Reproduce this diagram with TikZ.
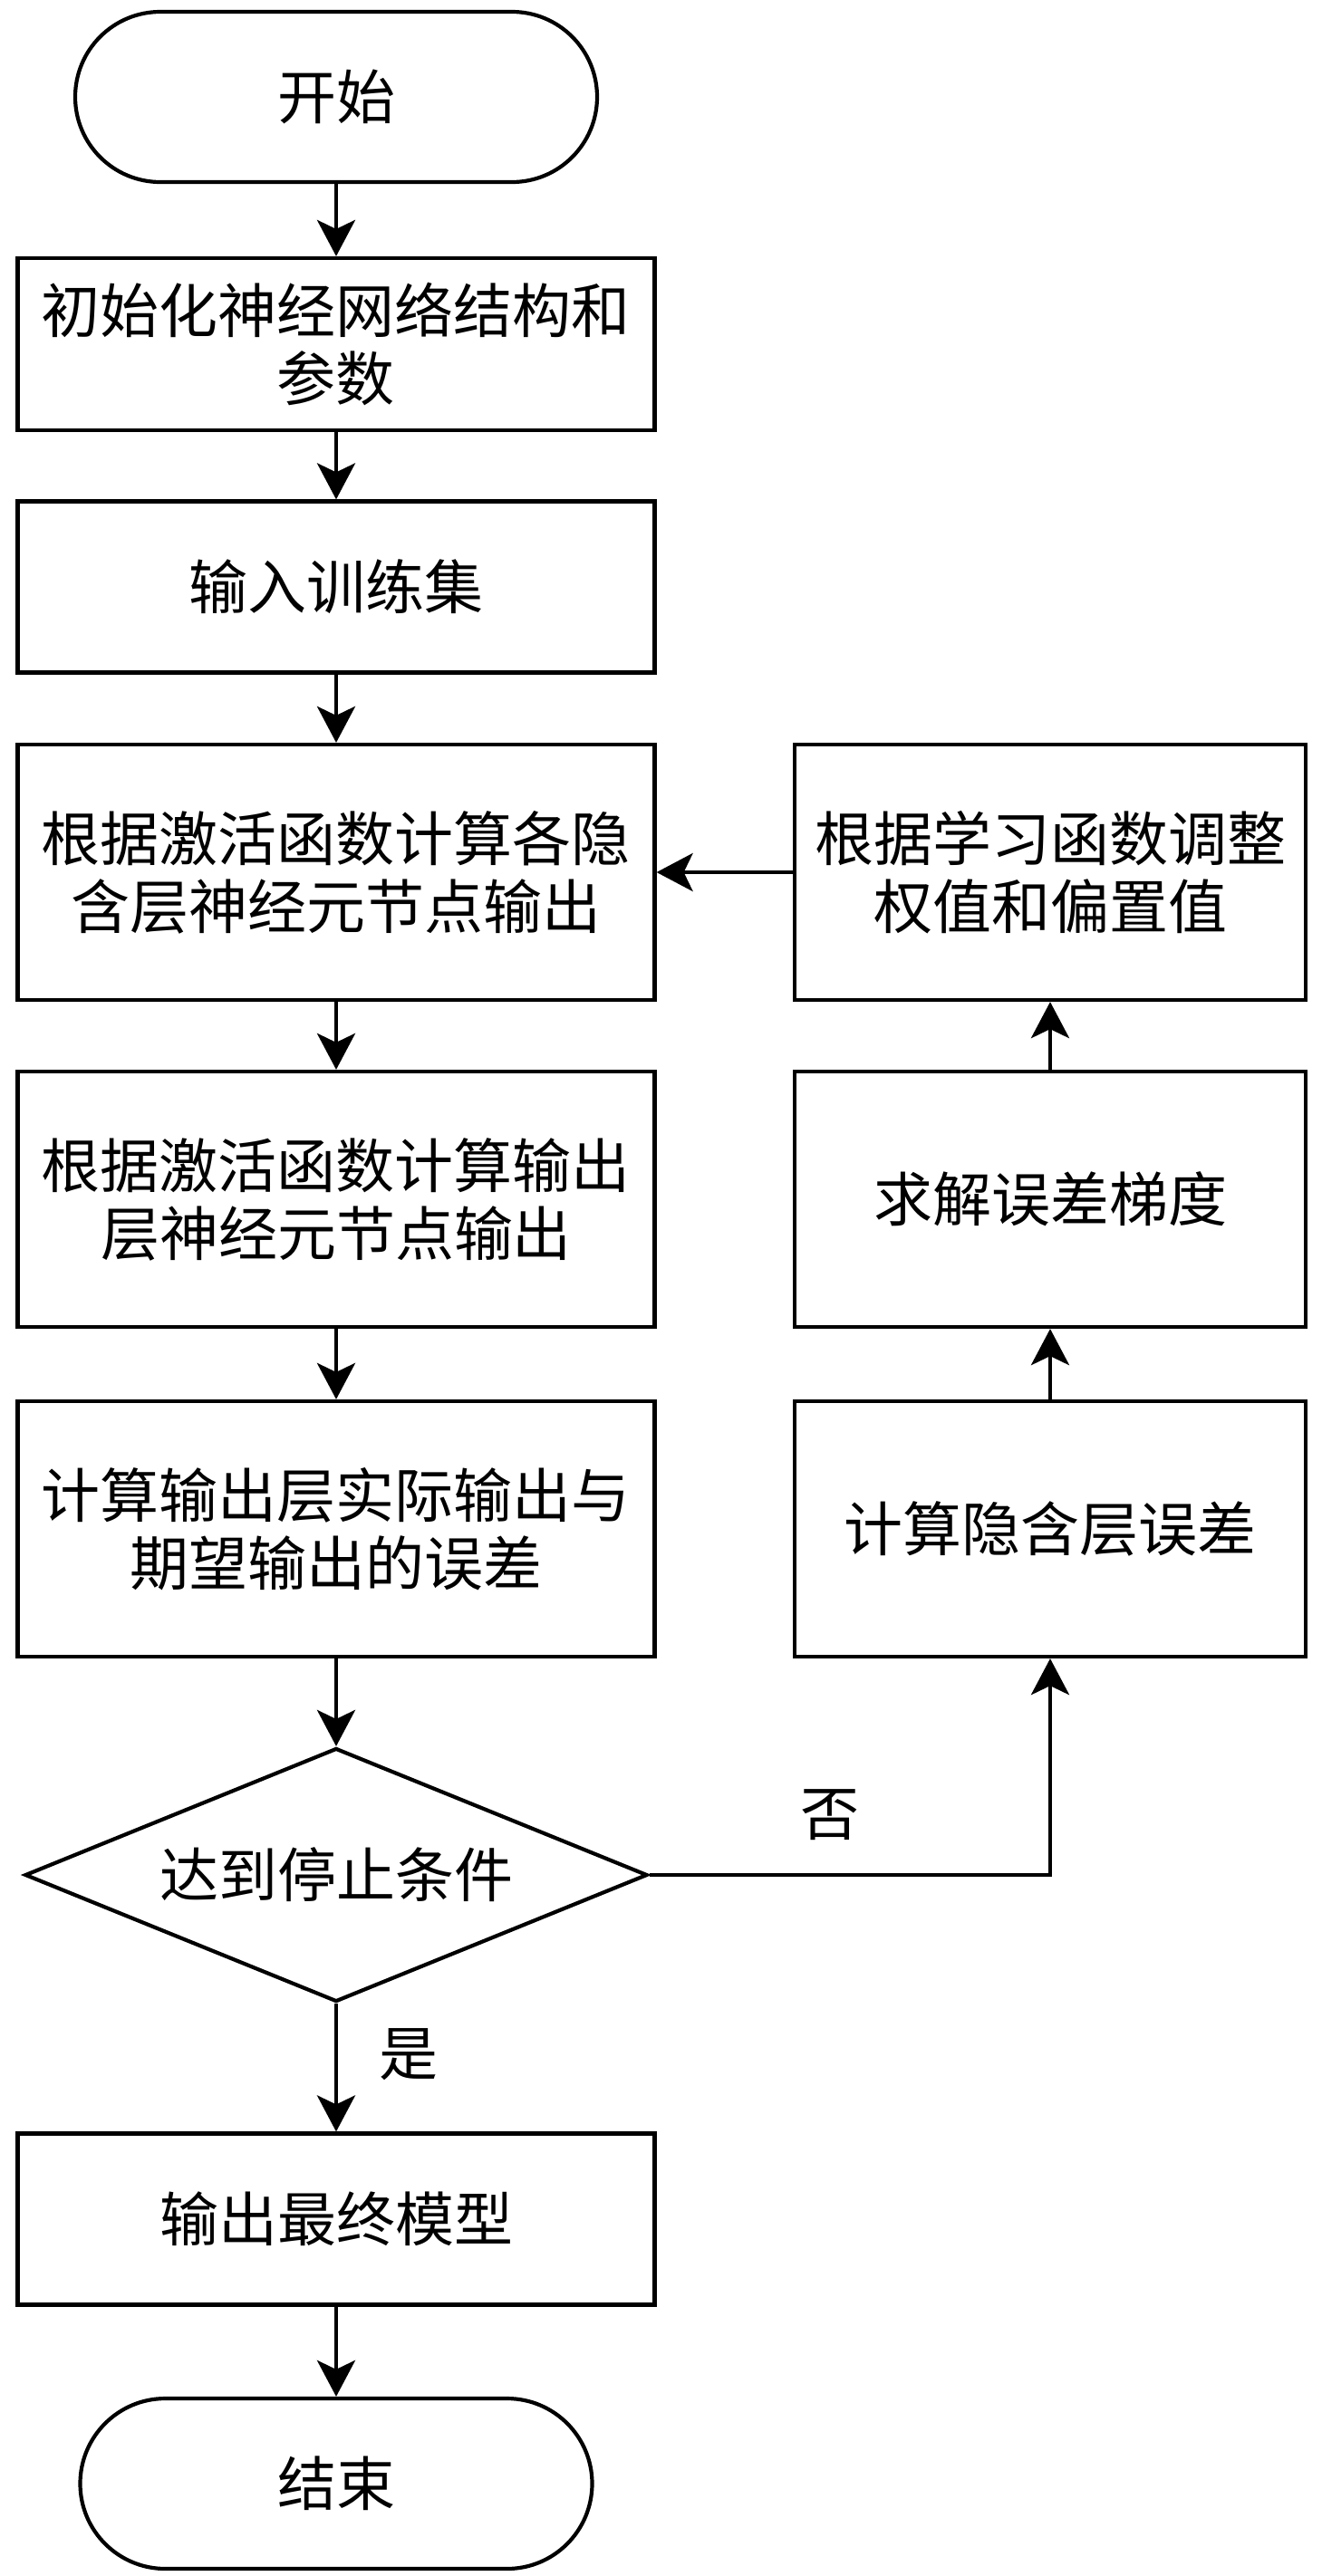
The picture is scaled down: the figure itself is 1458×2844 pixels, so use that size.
\documentclass[tikz,border=0pt]{standalone}
\usepackage{fontspec}
\newfontfamily\cjk{Noto Sans CJK SC}
\usetikzlibrary{shapes.geometric,arrows.meta}

\tikzset{
  flowtext/.style={font=\cjk\fontsize{32.5pt}{37.5pt}\selectfont, align=center},
  termbox/.style={flowtext, draw, line width=2.1pt, rounded corners=47pt,
    minimum height=94pt, inner sep=0pt},
  procbox/.style={flowtext, draw, line width=2.1pt, inner sep=0pt},
  leftbox/.style={procbox, minimum width=351.5pt},
  rightbox/.style={procbox, minimum width=282pt},
  testbox/.style={flowtext, draw, line width=2.1pt, diamond, aspect=2.45,
    inner sep=0pt, minimum width=343.5pt, minimum height=140pt},
  flowline/.style={draw, line width=2.3pt,
    -{Stealth[length=20pt, width=21pt, inset=5pt]}},
}

\begin{document}
\begin{tikzpicture}[x=0.5pt, y=-0.5pt]%
\useasboundingbox (0,0) rectangle (1458,2844);%
% left column
\node [termbox, minimum width=288pt] (start) at (371,107) {开始};%
\node [leftbox, minimum height=95pt] (init) at (371,380) {初始化神经网络结构和\\参数};%
\node [leftbox, minimum height=94.5pt] (input) at (371,648) {输入训练集};%
\node [leftbox, minimum height=141pt] (hidden) at (371,963) {根据激活函数计算各隐\\含层神经元节点输出};%
\node [leftbox, minimum height=141pt] (output) at (371,1324) {根据激活函数计算输出\\层神经元节点输出};%
\node [leftbox, minimum height=141pt] (error) at (371,1688) {计算输出层实际输出与\\期望输出的误差};%
\node [testbox] (stop) at (371,2070) {达到停止条件};%
\node [leftbox, minimum height=94.5pt] (final) at (371,2450) {输出最终模型};%
\node [termbox, minimum width=282.5pt] (end) at (371,2742) {结束};%
% right column
\node [rightbox, minimum height=141pt] (update) at (1159,963) {根据学习函数调整\\权值和偏置值};%
\node [rightbox, minimum height=141pt] (grad) at (1159,1324) {求解误差梯度};%
\node [rightbox, minimum height=141pt] (herr) at (1159,1688) {计算隐含层误差};%
% labels
\node [flowtext] (yes) at (451,2268) {是};%
\node [flowtext] (no) at (916,2004) {否};%
% connectors
\path [flowline] (start) -- (init);%
\path [flowline] (init) -- (input);%
\path [flowline] (input) -- (hidden);%
\path [flowline] (hidden) -- (output);%
\path [flowline] (output) -- (error);%
\path [flowline] (error) -- (stop);%
\path [flowline] (stop) -- (final);%
\path [flowline] (final) -- (end);%
\path [flowline] (stop.east) -| (herr.south);%
\path [flowline] (herr) -- (grad);%
\path [flowline] (grad) -- (update);%
\path [flowline] (update) -- (hidden);%
\end{tikzpicture}
\end{document}
